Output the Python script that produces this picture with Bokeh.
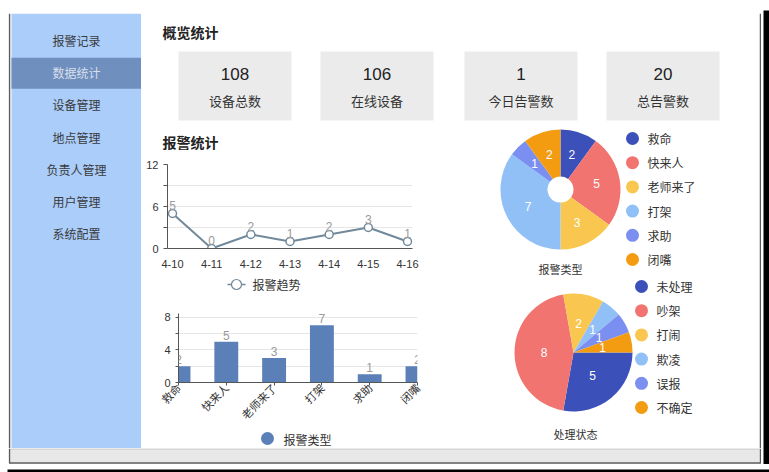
import numpy as np
from bokeh.plotting import figure
from bokeh.layouts import row, column
from bokeh.models import (Range1d, FixedTicker, ColumnDataSource, LabelSet)
from bokeh.embed import file_html
from bokeh.resources import INLINE
from bokeh.core.properties import value

CJK = "Noto Sans CJK SC"
NUM = "Liberation Sans"

# ---------------- data ----------------
menu_items = ["报警记录", "数据统计", "设备管理", "地点管理", "负责人管理", "用户管理", "系统配置"]
active_menu = "数据统计"
stat_values = ["108", "106", "1", "20"]
stat_labels = ["设备总数", "在线设备", "今日告警数", "总告警数"]
trend_dates = ["4-10", "4-11", "4-12", "4-13", "4-14", "4-15", "4-16"]
trend_counts = [5, 0, 2, 1, 2, 3, 1]
alarm_types = ["救命", "快来人", "老师来了", "打架", "求助", "闭嘴"]
alarm_counts = [2, 5, 3, 7, 1, 2]
status_names = ["未处理", "吵架", "打闹", "欺凌", "误报", "不确定"]
status_counts = [5, 8, 2, 1, 1, 1]
pie_colors = ["#3b50b8", "#f27470", "#f9c74f", "#91c0f7", "#7a8ff0", "#f39c12"]
line_color = "#71899a"
bar_color = "#5b80b8"

BORDER = "#5a5a5a"


def canvas(w, h, bg="#ffffff"):
    p = figure(width=w, height=h, x_range=Range1d(0, w), y_range=Range1d(h, 0),
               x_axis_location=None, y_axis_location=None,
               output_backend="svg", toolbar_location=None, min_border=0,
               background_fill_color=bg, border_fill_color=bg,
               outline_line_color=None)
    p.grid.visible = False
    return p


def solo(f):
    return row(f)


# ---------------- outer margin pieces ----------------
m_top = canvas(769, 8)
m_left = canvas(8, 456)
m_right = canvas(8, 456)
m_right.quad(left=[2], right=[8], top=[2], bottom=[456], fill_color="#000000", line_color=None)
m_bottom = canvas(769, 8)
m_bottom.quad(left=[7], right=[769], top=[1], bottom=[8], fill_color="#000000", line_color=None)

# ---------------- frame pieces ----------------
top = canvas(753, 5)
top.segment(x0=[1], y0=[2], x1=[752], y1=[2], line_color=BORDER, line_width=1.5)
top.segment(x0=[1, 752], y0=[2, 2], x1=[1, 752], y1=[5, 5], line_color=BORDER, line_width=1.5)

bottom = canvas(753, 16)
bottom.quad(left=[2], right=[751], top=[0], bottom=[14], fill_color="#e8e8e8", line_color=None)
bottom.segment(x0=[2], y0=[0.5], x1=[751], y1=[0.5], line_color="#c4c4c4", line_width=1)
bottom.segment(x0=[1], y0=[14.5], x1=[752], y1=[14.5], line_color=BORDER, line_width=1.5)
bottom.segment(x0=[1, 752], y0=[0, 0], x1=[1, 752], y1=[15, 15], line_color=BORDER, line_width=1.5)

right = canvas(3, 435)
right.segment(x0=[2], y0=[0], x1=[2], y1=[435], line_color=BORDER, line_width=1.5)

# ---------------- sidebar ----------------
side = canvas(133, 435)
side.segment(x0=[1], y0=[0], x1=[1], y1=[435], line_color=BORDER, line_width=1.5)
side.quad(left=[3], right=[133], top=[0], bottom=[435], fill_color="#aacdfa", line_color=None)
menu_y = [27 + i * 32.2 for i in range(len(menu_items))]
act = menu_items.index(active_menu)
side.quad(left=[3], right=[133], top=[menu_y[act] - 15], bottom=[menu_y[act] + 16],
          fill_color="#6f8fbf", line_color=None)
side.text(x=[68] * len(menu_items), y=menu_y, text=menu_items,
          text_color=["#d8dfeb" if m == active_menu else "#3a3a3a" for m in menu_items],
          text_font=value(CJK), text_font_size="12px",
          text_align="center", text_baseline="middle")

# ---------------- header ----------------
head = canvas(617, 109)
head.text(x=[21], y=[18], text=["概览统计"], text_font=value(CJK), text_font_size="14px",
          text_font_style="bold", text_color="#222222", text_align="left", text_baseline="middle")
box_left = [37, 179, 323, 465]
box_w = 113
head.quad(left=box_left, right=[b + box_w for b in box_left], top=[38] * 4, bottom=[107] * 4,
          fill_color="#ebebeb", line_color=None)
head.text(x=[b + box_w / 2 for b in box_left], y=[60] * 4, text=stat_values,
          text_font=value(NUM), text_font_size="17px", text_color="#222222",
          text_align="center", text_baseline="middle")
head.text(x=[b + box_w / 2 for b in box_left], y=[87] * 4, text=stat_labels,
          text_font=value(CJK), text_font_size="13px", text_color="#333333",
          text_align="center", text_baseline="middle")

title2 = canvas(330, 28)
title2.text(x=[21], y=[19], text=["报警统计"], text_font=value(CJK), text_font_size="14px",
            text_font_style="bold", text_color="#222222", text_align="left", text_baseline="middle")

# ---------------- line chart ----------------
xi = list(range(len(trend_dates)))
pad = 5 * 6 / 235
lp = figure(width=330, height=124, x_range=Range1d(-pad, 6 + pad), y_range=Range1d(0, 12),
            min_border_left=26, min_border_right=59, min_border_top=14, min_border_bottom=26,
            output_backend="svg", toolbar_location=None, outline_line_color=None,
            background_fill_color="white", border_fill_color="white")
lsrc = ColumnDataSource(dict(x=xi, y=trend_counts, t=[str(v) for v in trend_counts]))
lp.line("x", "y", source=lsrc, line_color=line_color, line_width=2)
lp.scatter("x", "y", source=lsrc, marker="circle", size=8, fill_color="white",
           line_color=line_color, line_width=1.5)
lp.add_layout(LabelSet(x="x", y="y", text="t", source=lsrc, y_offset=4, text_align="center",
                       text_baseline="bottom", text_font_size="12px", text_color="#9a9a9a",
                       text_font=value(NUM)))
lp.xaxis.ticker = FixedTicker(ticks=xi)
lp.xaxis.major_label_overrides = {i: d for i, d in zip(xi, trend_dates)}
lp.yaxis.ticker = FixedTicker(ticks=[0, 3, 6, 9, 12])
lp.yaxis.major_label_overrides = {3: "", 9: ""}
for ax in (lp.xaxis, lp.yaxis):
    ax.axis_line_color = "#555555"
    ax.major_tick_line_color = "#555555"
    ax.minor_tick_line_color = None
    ax.major_label_text_font = NUM
    ax.major_label_text_font_size = "11px"
    ax.major_label_text_color = "#333333"
lp.xaxis.major_tick_line_color = None
lp.xaxis.major_label_standoff = 5
lp.yaxis.major_tick_out = 4
lp.yaxis.major_tick_in = 0
lp.xgrid.visible = False
lp.ygrid.grid_line_color = "#e6e6e6"

lleg = canvas(330, 21)
lleg.segment(x0=[86], y0=[10], x1=[104], y1=[10], line_color=line_color, line_width=1.5)
lleg.scatter(x=[95], y=[10], marker="circle", size=10, fill_color="white",
             line_color=line_color, line_width=1.2)
lleg.text(x=[111], y=[10], text=["报警趋势"], text_font=value(CJK), text_font_size="12px",
          text_color="#333333", text_align="left", text_baseline="middle")

# ---------------- bar chart ----------------
bi = list(range(len(alarm_types)))
bp = figure(width=330, height=135, x_range=Range1d(0, 5), y_range=Range1d(0, 8.45),
            min_border_left=37, min_border_right=54, min_border_top=18, min_border_bottom=47,
            output_backend="svg", toolbar_location=None, outline_line_color=None,
            background_fill_color="white", border_fill_color="white")
bsrc = ColumnDataSource(dict(x=bi, y=alarm_counts, t=[str(v) for v in alarm_counts]))
bp.vbar(x="x", top="y", width=0.5, source=bsrc, fill_color=bar_color, line_color=None)
bp.add_layout(LabelSet(x="x", y="y", text="t", source=bsrc, y_offset=2, text_align="center",
                       text_baseline="bottom", text_font_size="12px", text_color="#9a9a9a",
                       text_font=value(NUM)))
bp.xaxis.ticker = FixedTicker(ticks=bi)
bp.xaxis.major_label_overrides = {i: n for i, n in zip(bi, alarm_types)}
bp.xaxis.major_label_orientation = np.pi / 4
bp.yaxis.ticker = FixedTicker(ticks=[0, 2, 4, 6, 8])
bp.yaxis.major_label_overrides = {2: "", 6: ""}
for ax in (bp.xaxis, bp.yaxis):
    ax.axis_line_color = "#555555"
    ax.major_tick_line_color = "#555555"
    ax.minor_tick_line_color = None
    ax.major_label_text_font_size = "11px"
    ax.major_label_text_color = "#333333"
    ax.major_tick_out = 3
    ax.major_tick_in = 0
bp.xaxis.major_label_text_font = CJK
bp.xaxis.major_label_standoff = 0
bp.yaxis.major_label_text_font = NUM
bp.xgrid.visible = False
bp.ygrid.grid_line_color = "#e6e6e6"

bleg = canvas(330, 18)
bleg.scatter(x=[126], y=[8], marker="circle", size=13, fill_color=bar_color, line_color=None)
bleg.text(x=[142], y=[8.5], text=["报警类型"], text_font=value(CJK), text_font_size="12px",
          text_color="#333333", text_align="left", text_baseline="middle")


# ---------------- pies ----------------
def pie_angles(counts, a0):
    v = np.array(counts, dtype=float)
    ang = v / v.sum() * 2 * np.pi
    cum = np.cumsum(ang)
    start = a0 - (cum - ang)
    end = a0 - cum
    return start, end, (start + end) / 2


def pie_fig(w, h, names, counts, cx, cy, r_out, r_in, a0, leg_x, leg_y0, title, title_xy):
    p = figure(width=w, height=h, x_range=Range1d(0, w), y_range=Range1d(0, h),
               x_axis_location=None, y_axis_location=None, output_backend="svg",
               toolbar_location=None, min_border=0, outline_line_color=None,
               background_fill_color="white", border_fill_color="white")
    p.grid.visible = False
    st, en, mid = pie_angles(counts, a0)
    src = ColumnDataSource(dict(s=st, e=en, c=pie_colors[:len(counts)]))
    if r_in > 0:
        p.annular_wedge(x=cx, y=cy, inner_radius=r_in, outer_radius=r_out, start_angle="s",
                        end_angle="e", direction="clock", fill_color="c", line_color=None,
                        source=src)
    else:
        p.wedge(x=cx, y=cy, radius=r_out, start_angle="s", end_angle="e", direction="clock",
                fill_color="c", line_color=None, source=src)
    rl = (r_in + r_out) / 2
    p.text(x=cx + rl * np.cos(mid), y=cy + rl * np.sin(mid), text=[str(c) for c in counts],
           text_color="white", text_font=value(NUM), text_font_size="12px",
           text_align="center", text_baseline="middle")
    ly = [h - (leg_y0 + i * 24.2) for i in range(len(names))]
    p.scatter(x=[leg_x] * len(names), y=ly, marker="circle", size=13,
              fill_color=pie_colors[:len(names)], line_color=None)
    p.text(x=[leg_x + 15] * len(names), y=ly, text=names, text_font=value(CJK),
           text_font_size="12px", text_color="#333333", text_align="left", text_baseline="middle")
    p.text(x=[title_xy[0]], y=[h - title_xy[1]], text=[title], text_font=value(CJK),
           text_font_size="11px", text_color="#333333", text_align="center", text_baseline="middle")
    return p


pie1 = pie_fig(287, 156, alarm_types, alarm_counts, 89, 156 - 67, 60, 13, np.pi / 2,
               161, 16, "报警类型", (89, 146))
pie2 = pie_fig(287, 170, status_names, status_counts, 102, 170 - 74, 59, 0, 0.0,
               170, 8, "处理状态", (104, 155))

# ---------------- layout ----------------
left_col = column(solo(title2), solo(lp), solo(lleg), solo(bp), solo(bleg))
right_col = column(solo(pie1), solo(pie2))
main = column(solo(head), row(left_col, right_col))
content = column(solo(top), row(solo(side), main, solo(right)), solo(bottom))
layout = column(solo(m_top), row(solo(m_left), content, solo(m_right)), solo(m_bottom))

open("out.html", "w").write(file_html(layout, INLINE))
